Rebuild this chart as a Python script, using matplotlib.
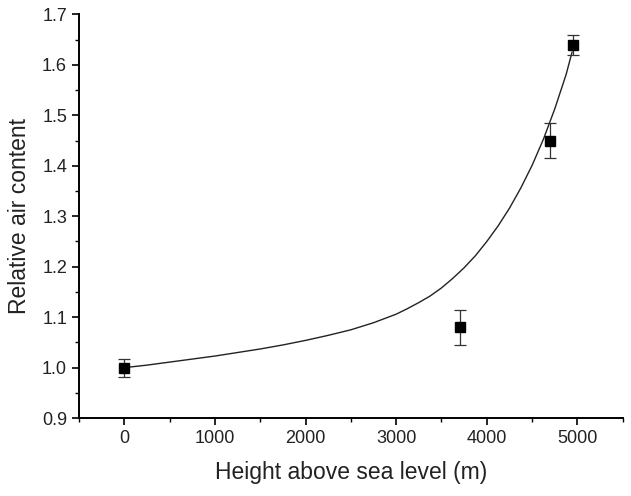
import numpy as np
import matplotlib.pyplot as plt
from matplotlib.ticker import MultipleLocator

plt.rcParams['font.family'] = ['Liberation Sans', 'DejaVu Sans']

# measured points
height = [0, 3700, 4700, 4950]
air = [1.00, 1.08, 1.45, 1.64]
air_err = [0.018, 0.035, 0.034, 0.02]

# fitted curve
fit_h = [0, 250, 500, 750, 1000, 1250, 1500, 1750, 2000, 2250, 2500, 2750,
         3000, 3125, 3250, 3375, 3500, 3625, 3750, 3875, 4000, 4125, 4250,
         4375, 4500, 4625, 4750, 4875, 4940]
fit_y = [1.000, 1.005, 1.011, 1.017, 1.023, 1.030, 1.037, 1.045, 1.054, 1.064,
         1.075, 1.089, 1.106, 1.117, 1.129, 1.142, 1.158, 1.177, 1.198, 1.222,
         1.250, 1.281, 1.316, 1.356, 1.401, 1.453, 1.513, 1.581, 1.625]

fig = plt.figure(figsize=(6.31, 4.96), dpi=100)
ax = fig.add_axes([0.125, 0.157, 0.862, 0.814])

ax.plot(fit_h, fit_y, color='#222222', lw=1.0)
ax.errorbar(height, air, yerr=air_err, fmt='s', color='black', ms=6.5,
            ecolor='#333333', elinewidth=0.9, capsize=4, capthick=0.9)

ax.set_xlim(-500, 5500)
ax.set_ylim(0.9, 1.7)
ax.xaxis.set_major_locator(MultipleLocator(1000))
ax.xaxis.set_minor_locator(MultipleLocator(500))
ax.yaxis.set_major_locator(MultipleLocator(0.1))
ax.yaxis.set_minor_locator(MultipleLocator(0.05))
ax.yaxis.set_major_formatter(plt.FormatStrFormatter('%.1f'))

for s in ['top', 'right']:
    ax.spines[s].set_visible(False)
for s in ['left', 'bottom']:
    ax.spines[s].set_linewidth(1.4)

ax.tick_params(which='major', direction='out', length=5, width=1.2,
               labelsize=13, colors='black', labelcolor='#222222')
ax.tick_params(which='minor', direction='out', length=3, width=1.0)

ax.set_xlabel('Height above sea level (m)', fontsize=16.5, color='#222222', labelpad=10)
ax.set_ylabel('Relative air content', fontsize=16.5, color='#222222', labelpad=8)

fig.savefig('out.png', dpi=100)
